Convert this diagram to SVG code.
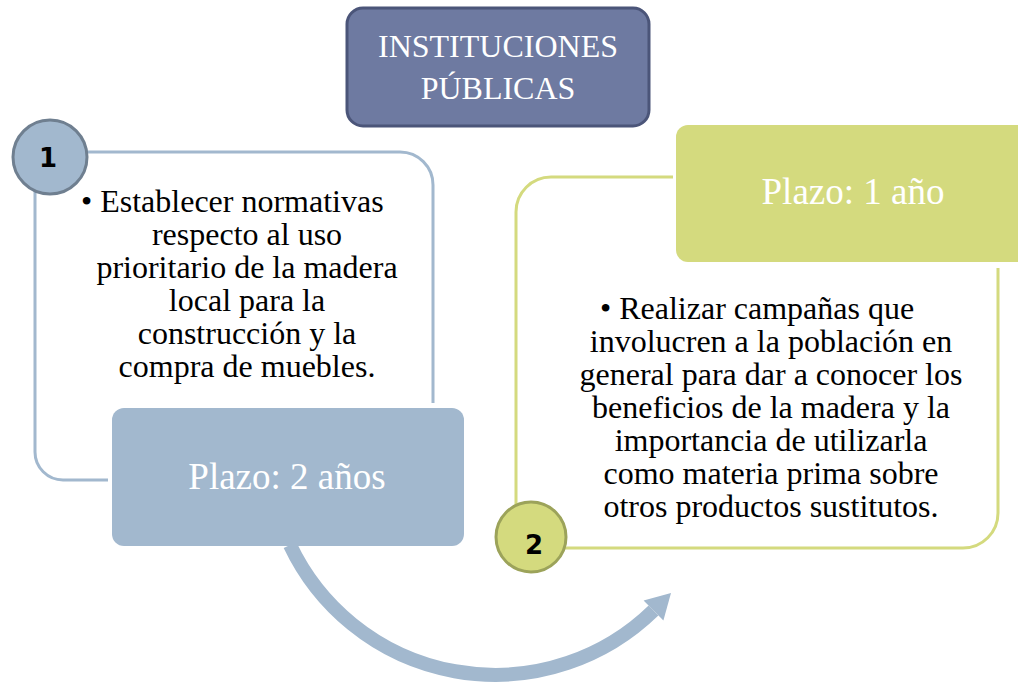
<svg xmlns="http://www.w3.org/2000/svg" width="1018" height="689" viewBox="0 0 1018 689">
<style>
.lbl{font-size:37px;fill:#fff;text-anchor:middle}
.num{font-weight:bold;font-size:26px;fill:#000;text-anchor:middle}
</style>
<rect width="1018" height="689" fill="#fff"/>
<g id="connectors">
<path d="M 290 545 A 227 227 0 0 0 653.5 610.5" fill="none" stroke="#A2B8CE" stroke-width="14"/>
<polygon points="671,593 643.6,600.6 663.4,620.4" fill="#A2B8CE"/>
</g>
<g id="title" font-family="'Liberation Serif', 'Times New Roman', serif">
<rect x="347" y="8" width="302" height="118" rx="16" fill="#6E7AA1" stroke="#4B5579" stroke-width="3"/>
<text x="498" y="57" font-size="32" fill="#fff" text-anchor="middle">INSTITUCIONES</text>
<text x="498" y="99" font-size="32" fill="#fff" text-anchor="middle">PÚBLICAS</text>
</g>
<g id="step1">
<path d="M 433 403 V 185 A 33 33 0 0 0 400 152 H 35 V 452 A 28 28 0 0 0 63 480 H 108" fill="none" stroke="#A2B8CE" stroke-width="3"/>
<circle cx="50" cy="157" r="37" fill="#A2B8CE" stroke="#6F7F90" stroke-width="3"/>
<text class="num" font-family="'DejaVu Sans', 'Liberation Sans', sans-serif" x="48" y="167">1</text>
<g font-family="'Liberation Serif', 'Times New Roman', serif" font-size="32" fill="#000" text-anchor="middle">
<text x="81" y="212" text-anchor="start">• Establecer normativas</text>
<text x="247" y="245">respecto al uso</text>
<text x="247" y="278">prioritario de la madera</text>
<text x="247" y="311">local para la</text>
<text x="247" y="344">construcción y la</text>
<text x="247" y="377">compra de muebles.</text>
</g>
</g>
<g id="plazo2">
<rect x="112" y="408" width="352" height="138" rx="12" fill="#A2B8CE"/>
<text class="lbl" font-family="'Liberation Serif', 'Times New Roman', serif" x="287" y="489">Plazo: 2 años</text>
</g>
<g id="step2">
<path d="M 673 177 H 551 A 35 35 0 0 0 516 212 V 548 H 963 A 35 35 0 0 0 998 513 V 268" fill="none" stroke="#D4DA7E" stroke-width="3"/>
<circle cx="531" cy="537" r="35" fill="#D4DA7E" stroke="#9CA35A" stroke-width="3"/>
<text class="num" font-family="'DejaVu Sans', 'Liberation Sans', sans-serif" x="534" y="554">2</text>
<g font-family="'Liberation Serif', 'Times New Roman', serif" font-size="32" fill="#000" text-anchor="middle">
<text x="600" y="319" text-anchor="start">• Realizar campañas que</text>
<text x="771" y="352">involucren a la población en</text>
<text x="771" y="385">general para dar a conocer los</text>
<text x="771" y="418">beneficios de la madera y la</text>
<text x="771" y="451">importancia de utilizarla</text>
<text x="771" y="484">como materia prima sobre</text>
<text x="771" y="517">otros productos sustitutos.</text>
</g>
</g>
<g id="plazo1">
<rect x="676" y="125" width="360" height="137" rx="12" fill="#D4DA7E"/>
<text class="lbl" font-family="'Liberation Serif', 'Times New Roman', serif" x="853" y="204">Plazo: 1 año</text>
</g>
</svg>
